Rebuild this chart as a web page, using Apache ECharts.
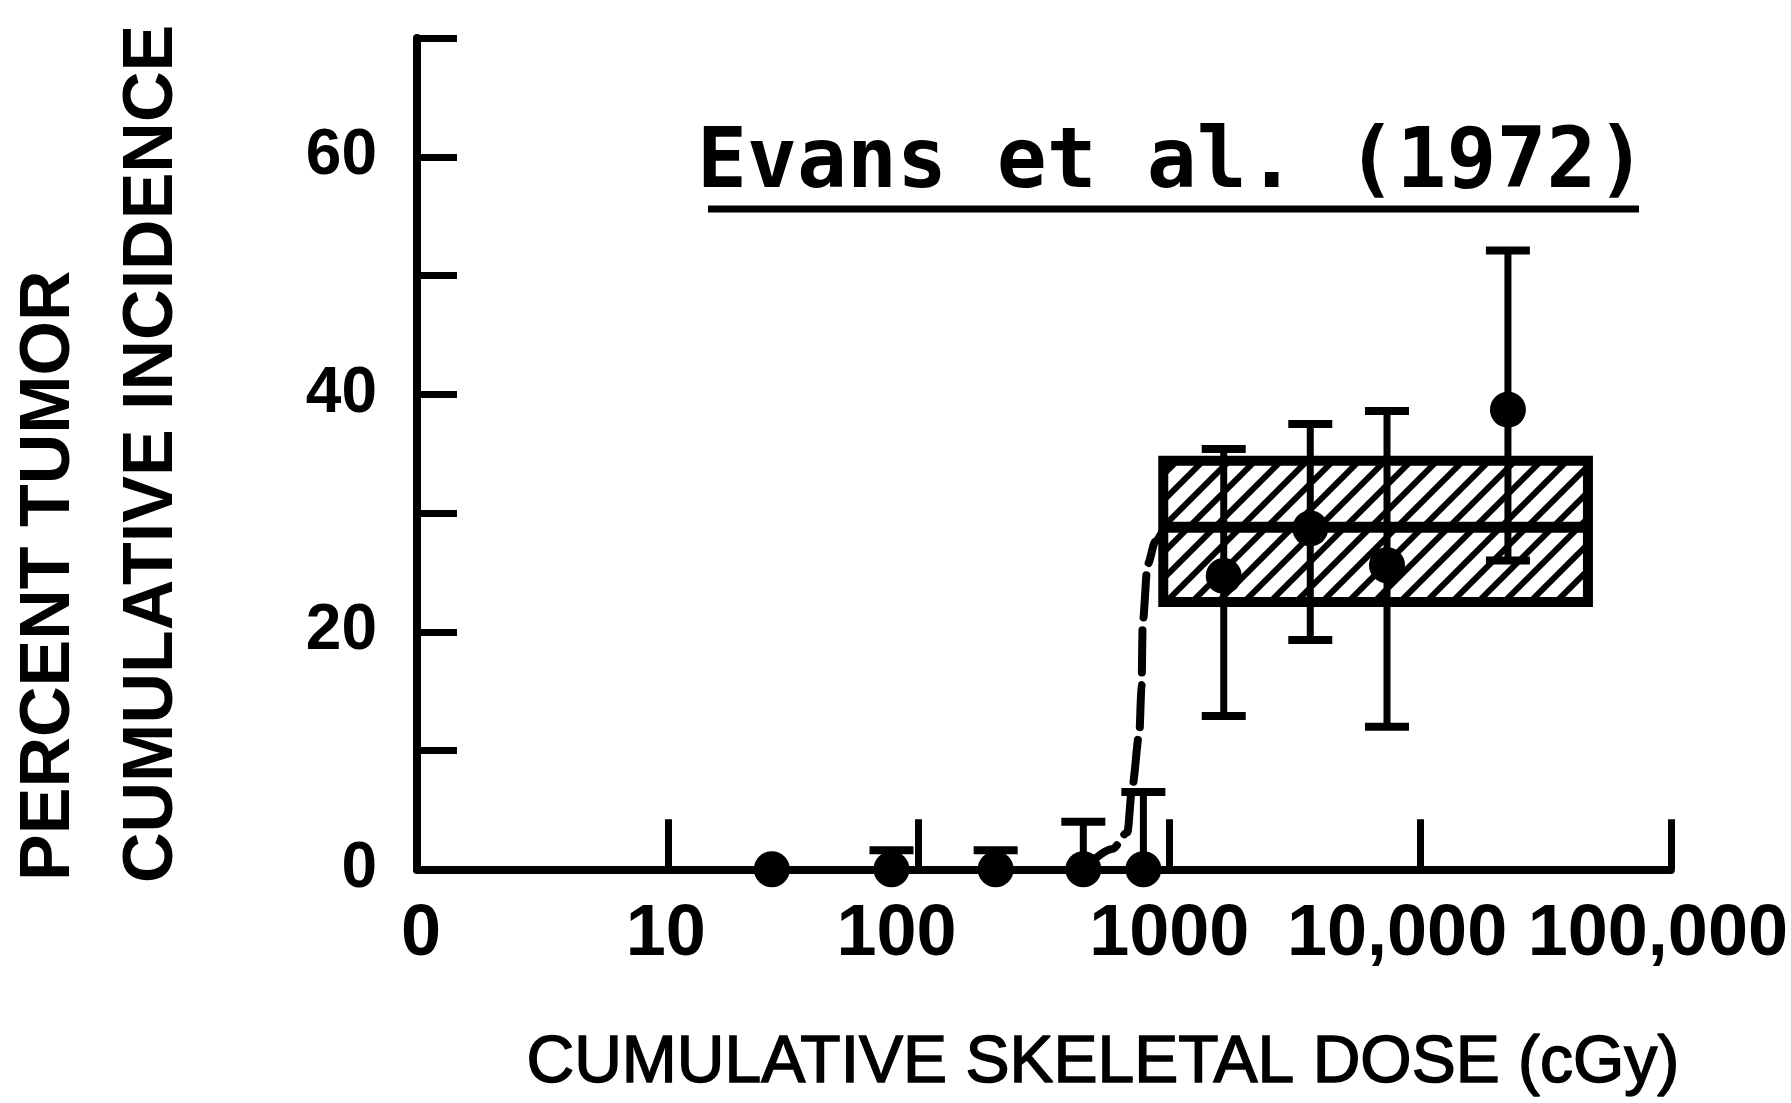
<!DOCTYPE html>
<html>
<head>
<meta charset="utf-8">
<title>Evans et al. (1972)</title>
<script src="https://cdn.jsdelivr.net/npm/echarts@6/dist/echarts.min.js"></script>
<style>
  html, body { margin: 0; padding: 0; background: #fff; }
  #chart { width: 1791px; height: 1103px; }
</style>
</head>
<body>
<div id="chart"></div>
<script>
// doses in cGy, incidence in percent
var xTickValues = [1, 10, 100, 1000, 10000, 100000];
var xTickLabels = ['0', '10', '100', '1000', '10,000', '100,000'];
var yTickLabels = [0, 20, 40, 60];

var pointDose = [26, 78, 203, 454, 788, 1648, 3648, 7380, 22400];
var pointPct  = [0, 0, 0, 0, 0, 24.7, 28.7, 25.6, 38.7];
var errLow    = [null, 0, 0, 0, 0, 12.9, 19.3, 12.0, 26.0];
var errHigh   = [null, 1.6, 1.6, 4.0, 6.5, 35.4, 37.5, 38.6, 52.1];

// dashed dose-response curve
var curveDose = [454, 593, 680, 712, 759, 775, 783, 820, 880, 946];
var curvePct  = [0, 1.7, 3.1, 7.0, 11.4, 15.5, 20.8, 25.7, 27.6, 28.6];

// hatched band: dose range, then bottom / middle / top
var boxDose = [946, 46700];
var boxPct  = [22.5, 28.8, 34.4];

var FONT = 'Liberation Sans, Arial, sans-serif';

// the printed tick labels sit a little off their ticks (px, + = right)
var xLabelShift = [4, -2, -22, 0, -23, -13];

// diagonal hatch for the band
function hatch () {
  var s = 26
  var c = document.createElement('canvas')
  c.width = s; c.height = s
  var g = c.getContext('2d')
  g.fillStyle = '#fff'
  g.fillRect(0, 0, s, s)
  g.strokeStyle = '#000'
  g.lineWidth = 6
  g.beginPath()
  g.moveTo(-3, 3); g.lineTo(3, -3)
  g.moveTo(0, s); g.lineTo(s, 0)
  g.moveTo(s - 3, s + 3); g.lineTo(s + 3, s - 3)
  g.stroke()
  return c
}
var hatchImg = hatch()

var xRich = {}
xLabelShift.forEach(function (d, k) {
  xRich['a' + k] = {
    fontFamily: FONT, fontSize: 72, fontWeight: 'bold', color: '#000',
    padding: d < 0 ? [0, -2 * d, 0, 0] : [0, 0, 0, 2 * d]
  }
})

var chart = echarts.init(document.getElementById('chart'))

var errData = []
pointDose.forEach(function (d, i) {
  if (errHigh[i] != null) errData.push([d, errLow[i], errHigh[i]])
})

chart.setOption({
  animation: false,
  backgroundColor: '#fff',
  grid: { left: 417, right: 120, top: 38, bottom: 216 },
  xAxis: {
    type: 'log',
    logBase: 10,
    min: xTickValues[0],
    max: xTickValues[xTickValues.length - 1],
    name: 'CUMULATIVE SKELETAL DOSE (cGy)',
    nameLocation: 'middle',
    nameGap: 162,
    nameTextStyle: {
      fontFamily: FONT, fontSize: 66, color: '#000',
      textBorderColor: '#000', textBorderWidth: 1.5,
      padding: [0, 0, 0, 118]
    },
    axisLine: { lineStyle: { color: '#000', width: 8 } },
    axisTick: { inside: true, length: 50, lineStyle: { color: '#000', width: 7 } },
    minorTick: { show: false },
    splitLine: { show: false },
    axisLabel: {
      margin: 30,
      fontFamily: FONT,
      fontSize: 72,
      fontWeight: 'bold',
      color: '#000',
      rich: xRich,
      formatter: function (v) {
        var k = Math.round(Math.log10(v))
        return '{a' + k + '|' + xTickLabels[k] + '}'
      }
    }
  },
  yAxis: {
    type: 'value',
    min: 0,
    max: 70,
    interval: 10,
    axisLine: { show: true, lineStyle: { color: '#000', width: 8 } },
    axisTick: { show: true, inside: true, length: 40, lineStyle: { color: '#000', width: 7 } },
    splitLine: { show: false },
    axisLabel: {
      margin: 40,
      fontFamily: FONT,
      fontSize: 64,
      fontWeight: 'bold',
      color: '#000',
      padding: [7, 0, 0, 0],
      formatter: function (v) {
        return yTickLabels.indexOf(v) >= 0 ? String(v) : ''
      }
    }
  },
  graphic: [
    {
      type: 'text', x: 50, y: 881, rotation: Math.PI / 2,
      style: { text: 'PERCENT TUMOR', font: 'bold 70px ' + FONT, fill: '#000', align: 'left', verticalAlign: 'middle' }
    },
    {
      type: 'text', x: 153, y: 883, rotation: Math.PI / 2,
      style: { text: 'CUMULATIVE INCIDENCE', font: 'bold 70px ' + FONT, fill: '#000', align: 'left', verticalAlign: 'middle' }
    },
    {
      type: 'text', x: 697, y: 165,
      style: { text: 'Evans et al. (1972)', font: 'bold 83px DejaVu Sans Mono, monospace', fill: '#000', align: 'left', verticalAlign: 'middle' }
    },
    {
      type: 'line', shape: { x1: 708, y1: 209, x2: 1639, y2: 209 },
      style: { stroke: '#000', lineWidth: 7 }
    }
  ],
  series: [
    {
      type: 'custom',
      z: 1,
      data: [[boxDose[0], boxDose[1], boxPct[0], boxPct[1], boxPct[2]]],
      renderItem: function (params, api) {
        var tl = api.coord([api.value(0), api.value(4)])
        var br = api.coord([api.value(1), api.value(2)])
        var ym = api.coord([api.value(0), api.value(3)])[1]
        return {
          type: 'group',
          children: [
            {
              type: 'rect',
              shape: { x: tl[0], y: tl[1], width: br[0] - tl[0], height: br[1] - tl[1] },
              style: { fill: { image: hatchImg, repeat: 'repeat' }, stroke: '#000', lineWidth: 10 }
            },
            {
              type: 'line',
              shape: { x1: tl[0], y1: ym, x2: br[0], y2: ym },
              style: { stroke: '#000', lineWidth: 11 }
            }
          ]
        }
      }
    },
    {
      type: 'custom',
      z: 2,
      data: errData,
      renderItem: function (params, api) {
        var lo = api.coord([api.value(0), api.value(1)])
        var hi = api.coord([api.value(0), api.value(2)])
        var cap = 22
        var kids = [
          { type: 'line', shape: { x1: lo[0], y1: lo[1], x2: hi[0], y2: hi[1] }, style: { stroke: '#000', lineWidth: 7 } },
          { type: 'line', shape: { x1: hi[0] - cap, y1: hi[1], x2: hi[0] + cap, y2: hi[1] }, style: { stroke: '#000', lineWidth: 8 } }
        ]
        if (api.value(1) > 0) {
          kids.push({ type: 'line', shape: { x1: lo[0] - cap, y1: lo[1], x2: lo[0] + cap, y2: lo[1] }, style: { stroke: '#000', lineWidth: 8 } })
        }
        return { type: 'group', children: kids }
      }
    },
    {
      type: 'line',
      z: 3,
      data: curveDose.map(function (d, i) { return [d, curvePct[i]] }),
      smooth: 0.3,
      smoothMonotone: 'x',
      symbol: 'none',
      clip: false,
      lineStyle: { color: '#000', width: 8, type: [42, 13], cap: 'round' }
    },
    {
      type: 'scatter',
      z: 4,
      clip: false,
      symbol: 'circle',
      symbolSize: 36,
      itemStyle: { color: '#000', opacity: 1 },
      data: pointDose.map(function (d, i) { return [d, pointPct[i]] })
    }
  ]
})
</script>
</body>
</html>
